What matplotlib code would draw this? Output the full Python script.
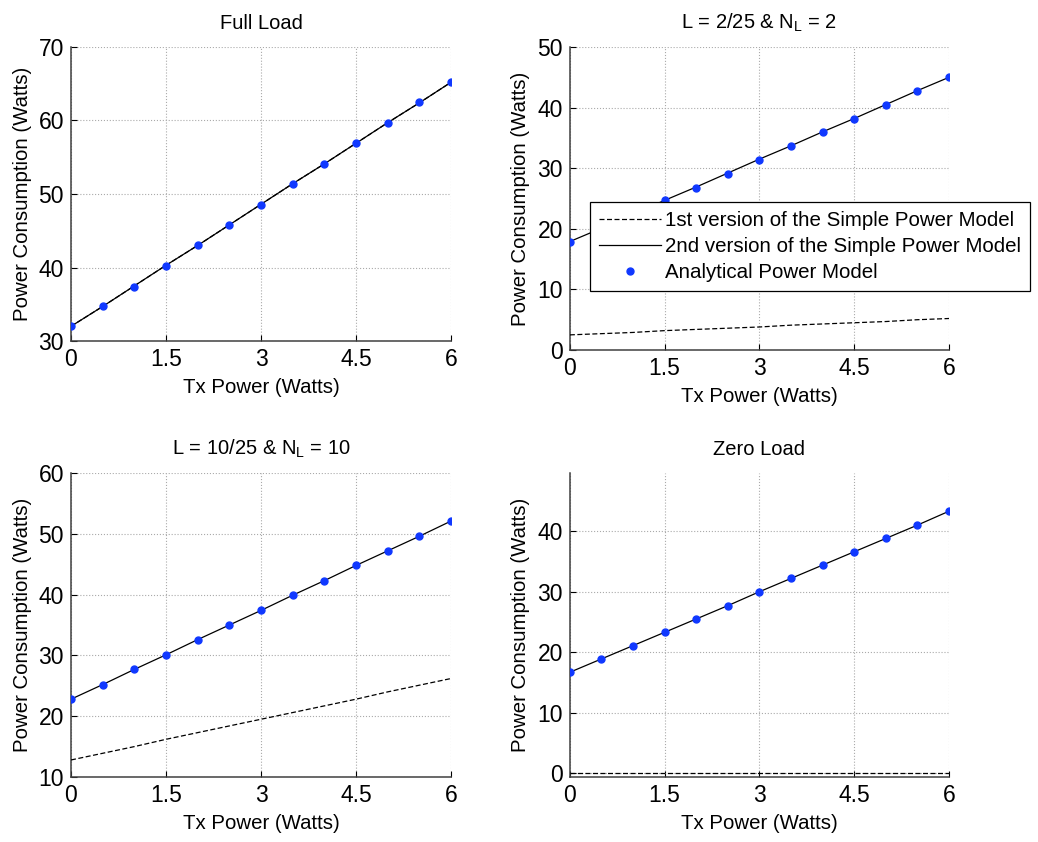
import matplotlib
matplotlib.use('Agg')
import matplotlib.pyplot as plt

plt.rcParams['font.family'] = ['Liberation Sans', 'DejaVu Sans']
plt.rcParams['mathtext.fontset'] = 'custom'
plt.rcParams['mathtext.rm'] = 'Liberation Sans'
plt.rcParams['font.size'] = 14

# Tx power (Watts)
tx_power = [0, 0.5, 1, 1.5, 2, 2.5, 3, 3.5, 4, 4.5, 5, 5.5, 6]

# Full load
full_simple1 = [32.0, 34.7, 37.5, 40.3, 43.0, 45.8, 48.6, 51.4, 54.1, 56.9, 59.7, 62.4, 65.2]
full_simple2 = [32.0, 34.7, 37.5, 40.3, 43.0, 45.8, 48.6, 51.4, 54.1, 56.9, 59.7, 62.4, 65.2]
full_analytic = [32.0, 34.7, 37.4, 40.2, 43.0, 45.8, 48.5, 51.3, 54.1, 56.9, 59.7, 62.5, 65.2]

# L = 2/25, N_L = 2
l2_simple1 = [2.5, 2.7, 2.9, 3.2, 3.4, 3.6, 3.8, 4.1, 4.3, 4.5, 4.7, 5.0, 5.2]
l2_simple2 = [17.9, 20.1, 22.4, 24.7, 26.9, 29.2, 31.5, 33.7, 36.0, 38.2, 40.5, 42.8, 45.0]
l2_analytic = [17.8, 20.1, 22.4, 24.7, 26.8, 29.1, 31.4, 33.7, 35.9, 38.2, 40.5, 42.7, 45.0]

# L = 10/25, N_L = 10
l10_simple1 = [12.8, 13.9, 15.0, 16.2, 17.3, 18.4, 19.5, 20.6, 21.7, 22.8, 24.0, 25.1, 26.2]
l10_simple2 = [22.8, 25.2, 27.7, 30.1, 32.6, 35.0, 37.4, 39.9, 42.3, 44.8, 47.2, 49.6, 52.1]
l10_analytic = [22.8, 25.2, 27.7, 30.1, 32.6, 35.0, 37.4, 39.9, 42.3, 44.8, 47.2, 49.6, 52.1]

# Zero load
zero_simple1 = [0, 0, 0, 0, 0, 0, 0, 0, 0, 0, 0, 0, 0]
zero_simple2 = [16.7, 18.9, 21.1, 23.3, 25.5, 27.7, 30.0, 32.2, 34.4, 36.6, 38.8, 41.0, 43.3]
zero_analytic = [16.7, 18.9, 21.1, 23.3, 25.5, 27.7, 30.0, 32.2, 34.4, 36.6, 38.8, 41.0, 43.3]

x_ticks = [0, 1.5, 3, 4.5, 6]
x_ticklabels = ['0', '1.5', '3', '4.5', '6']

panels = [
    ('Full Load', full_simple1, full_simple2, full_analytic, (30, 70), [30, 40, 50, 60, 70],
     [0.0684, 0.595, 0.3661, 0.3492]),
    (r'L = 2/25 & N$_\mathrm{L}$ = 2', l2_simple1, l2_simple2, l2_analytic, (0, 50), [0, 10, 20, 30, 40, 50],
     [0.549, 0.5843, 0.3653, 0.3599]),
    (r'L = 10/25 & N$_\mathrm{L}$ = 10', l10_simple1, l10_simple2, l10_analytic, (10, 60), [10, 20, 30, 40, 50, 60],
     [0.0684, 0.0772, 0.3661, 0.361]),
    ('Zero Load', zero_simple1, zero_simple2, zero_analytic, (-0.6, 49.6), [0, 10, 20, 30, 40],
     [0.549, 0.0772, 0.3653, 0.361]),
]

fig = plt.figure(figsize=(10.38, 8.42), dpi=100)
blue = '#1038ff'
handles = None
for title, s1, s2, an, ylim, yticks, rect in panels:
    ax = fig.add_axes(rect)
    h1, = ax.plot(tx_power, s1, color='black', lw=0.9, ls=(0, (4, 2)), zorder=3)
    h2, = ax.plot(tx_power, s2, color='black', lw=0.9, zorder=3)
    h3, = ax.plot(tx_power, an, ls='none', marker='o', ms=5, color=blue, zorder=4)
    if handles is None:
        handles = [h1, h2, h3]
    ax.set_xlim(0, 6)
    ax.set_ylim(*ylim)
    ax.set_xticks(x_ticks)
    ax.set_xticklabels(x_ticklabels)
    ax.set_yticks(yticks)
    ax.tick_params(direction='in', length=4, width=0.8, labelsize=16.5, pad=5)
    ax.grid(True, ls=':', color='#aaaaaa', lw=0.8)
    for side in ['top', 'right']:
        ax.spines[side].set_visible(False)
    for side in ['left', 'bottom']:
        ax.spines[side].set_color('#404040')
        ax.spines[side].set_linewidth(1.1)
    ax.set_title(title, fontsize=14.5, pad=13)
    ax.set_xlabel('Tx Power (Watts)', fontsize=14.7, labelpad=5)
    ax.set_ylabel('Power Consumption (Watts)', fontsize=14.7, labelpad=5)

leg = fig.legend(handles,
                 ['1st version of the Simple Power Model',
                  '2nd version of the Simple Power Model',
                  'Analytical Power Model'],
                 loc='upper left', bbox_to_anchor=(0.568, 0.760), fontsize=14.8,
                 frameon=True, fancybox=False, edgecolor='black', framealpha=1,
                 handlelength=3.0, handletextpad=0.2, labelspacing=0.33,
                 borderpad=0.45, borderaxespad=0)
leg.get_frame().set_linewidth(0.9)

fig.savefig('out.png', dpi=100)
